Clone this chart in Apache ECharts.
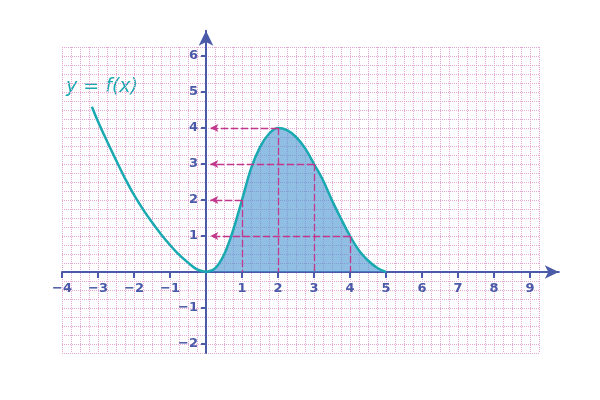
<!DOCTYPE html>
<html>
<head>
<meta charset="utf-8">
<script src="https://cdn.jsdelivr.net/npm/echarts@6/dist/echarts.min.js"></script>
<style>html,body{margin:0;padding:0;background:#fff}#c{width:600px;height:400px}</style>
</head>
<body>
<div id="c"></div>
<script>
// Curve left of the origin
const xNeg = [-3.17, -3, -2.75, -2.5, -2.25, -2, -1.75, -1.5, -1.25, -1, -0.75, -0.5, -0.25, 0];
const yNeg = [4.59, 4.18, 3.63, 3.11, 2.6, 2.14, 1.74, 1.38, 1.05, 0.75, 0.48, 0.26, 0.07, 0];
// Curve from 0 to 5 (shaded part)
const xPos = [0, 0.25, 0.5, 0.75, 1, 1.25, 1.5, 1.75, 2, 2.25, 2.5, 2.75, 3, 3.25, 3.5, 3.75, 4, 4.25, 4.5, 4.75, 5];
const yPos = [0, 0.1, 0.48, 1.15, 2.0, 2.87, 3.47, 3.84, 4.0, 3.94, 3.75, 3.44, 3.0, 2.55, 1.99, 1.48, 1.0, 0.6, 0.32, 0.12, 0];
// Guide points (dashed lines)
const guideX = [1, 2, 3, 4];
const guideY = [2, 4, 3, 1];
// Tick labels
const xTickValues = [-4, -3, -2, -1, 1, 2, 3, 4, 5, 6, 7, 8, 9];
const yTickValues = [-2, -1, 1, 2, 3, 4, 5, 6];

const AXIS = '#4a5aa8';
const PINK = '#e6a6d4';
const TEAL = '#19a9b0';
const MAG = '#c2378c';
const fmt = v => (v < 0 ? '\u2212' + Math.abs(v) : String(v));
const labelStyle = { color: AXIS, fontWeight: 'bold', fontSize: 13, fontFamily: 'DejaVu Sans' };

const chart = echarts.init(document.getElementById('c'), null, { renderer: 'canvas' });

const guideLines = [];
guideX.forEach((x, i) => {
  guideLines.push([{ coord: [x, guideY[i]], symbol: 'none' }, { coord: [0.12, guideY[i]], symbol: 'arrow' }]);
  guideLines.push([{ coord: [x, guideY[i]], symbol: 'none' }, { coord: [x, 0], symbol: 'none' }]);
});

chart.setOption({
  animation: false,
  grid: [
    { left: 62, right: 61, top: 47, bottom: 47, containLabel: false },
    { left: 62, right: 41.2, top: 30.8, bottom: 47, containLabel: false }
  ],
  xAxis: [
    { type: 'value', gridIndex: 0, min: -4, max: 9.25, interval: 0.25, position: 'top',
      axisLine: { show: false, onZero: false }, axisTick: { show: false }, axisLabel: { show: false },
      splitLine: { show: true, lineStyle: { color: PINK, width: 1, type: [1, 1] } } },
    { type: 'value', gridIndex: 1, min: -4, max: 9.8, position: 'bottom', offset: -81,
      axisLine: { show: true, onZero: false, symbol: ['none', 'arrow'], symbolSize: [10, 14], lineStyle: { color: AXIS, width: 2 } },
      axisTick: { show: true, customValues: xTickValues, length: 6, lineStyle: { color: AXIS, width: 2 } },
      axisLabel: Object.assign({ customValues: xTickValues, formatter: fmt, margin: 10 }, labelStyle),
      splitLine: { show: false } }
  ],
  yAxis: [
    { type: 'value', gridIndex: 0, min: -2.25, max: 6.25, interval: 0.25, position: 'right',
      axisLine: { show: false, onZero: false }, axisTick: { show: false }, axisLabel: { show: false },
      splitLine: { show: true, lineStyle: { color: PINK, width: 1, type: [1, 1] } } },
    { type: 'value', gridIndex: 1, min: -2.25, max: 6.7, position: 'left', offset: -144,
      axisLine: { show: true, onZero: false, symbol: ['none', 'arrow'], symbolSize: [11, 15], lineStyle: { color: AXIS, width: 2 } },
      axisTick: { show: true, customValues: yTickValues, length: 5, lineStyle: { color: AXIS, width: 2 } },
      axisLabel: Object.assign({ customValues: yTickValues, formatter: fmt, margin: 8 }, labelStyle),
      splitLine: { show: false } }
  ],
  series: [
    { type: 'line', xAxisIndex: 1, yAxisIndex: 1, smooth: 0.35, showSymbol: false, silent: true,
      data: xNeg.map((x, i) => [x, yNeg[i]]),
      lineStyle: { color: TEAL, width: 2.5 } },
    { type: 'line', xAxisIndex: 1, yAxisIndex: 1, smooth: 0.35, showSymbol: false, silent: true,
      data: xPos.map((x, i) => [x, yPos[i]]),
      lineStyle: { color: TEAL, width: 2.5 },
      areaStyle: { color: 'rgba(72,146,208,0.6)', opacity: 1, origin: 'auto' },
      markLine: { silent: true, symbolSize: [6, 8], label: { show: false },
        lineStyle: { color: MAG, width: 1.3, type: [7, 3] },
        data: guideLines } }
  ],
  graphic: [
    { type: 'text', left: 66, top: 78,
      style: { text: 'y = f(x)', fill: TEAL, font: 'italic 19px "DejaVu Sans"' } }
  ]
});
</script>
</body>
</html>
